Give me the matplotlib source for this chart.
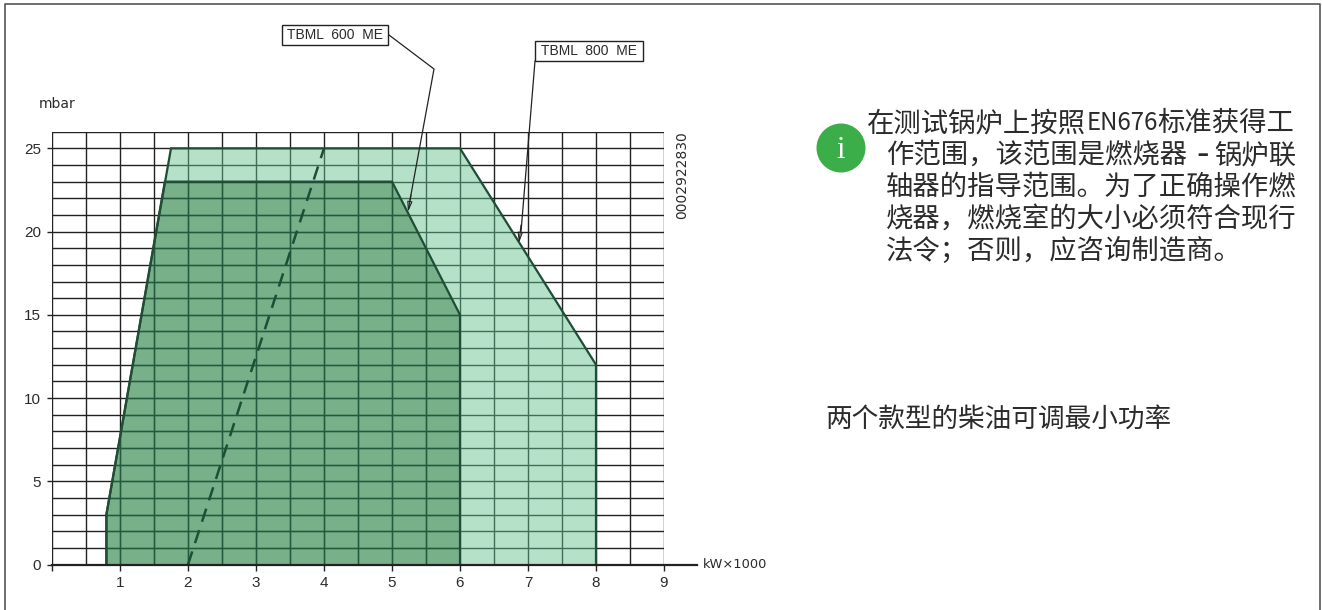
import matplotlib
matplotlib.use("Agg")
import matplotlib.pyplot as plt
from matplotlib.patches import Circle, Polygon, Rectangle

plt.rcParams['font.family'] = ['Noto Sans CJK SC', 'DejaVu Sans']

W, H = 1322, 610

# operating ranges, kW x 1000 / mbar
x_800 = [0.8, 0.8, 1.75, 6, 8, 8]
y_800 = [0, 3, 25, 25, 12, 0]
x_600 = [0.8, 0.8, 1.66, 5, 6, 6]
y_600 = [0, 3, 23, 23, 15, 0]
x_dash = [2, 4]
y_dash = [0, 25]

x_ticks = [1, 2, 3, 4, 5, 6, 7, 8, 9]
y_ticks = [0, 5, 10, 15, 20, 25]

note_2 = "两个款型的柴油可调最小功率"
label_600 = "TBML  600  ME"
label_800 = "TBML  800  ME"
drawing_no = "0002922830"

GREEN_EDGE = "#1f4d36"
TXT = "#2b2b2b"

fig = plt.figure(figsize=(W / 100, H / 100), dpi=100)

# chart axes, placed to the pixel box of the plot
left, right, top, bottom = 52, 664, 131.7, 564.5
ax = fig.add_axes([left / W, 1 - bottom / H, (right - left) / W, (bottom - top) / H])
ax.set_xlim(0, 9)
ax.set_ylim(0, 26)


def draw_grid(color, z, lw=1.0, clip=None):
    lines = []
    for v in range(0, 19):
        lines += ax.plot([v / 2, v / 2], [0, 26], color=color, lw=lw, zorder=z)
    for v in range(0, 27):
        lines += ax.plot([0, 9], [v, v], color=color, lw=lw, zorder=z)
    if clip is not None:
        for ln in lines:
            ln.set_clip_path(clip)


draw_grid("#222222", 1)

poly_800 = Polygon(list(zip(x_800, y_800)), fc="#b6e1c9", ec="none", zorder=2)
poly_600 = Polygon(list(zip(x_600, y_600)), fc="#78b08a", ec="none", zorder=3)
ax.add_patch(poly_800)
ax.add_patch(poly_600)
# grid shows through the fills, darkened to green
draw_grid("#3f6f56", 3.5, clip=poly_800)
draw_grid("#235a3c", 3.6, clip=poly_600)

ax.plot(x_800, y_800, color=GREEN_EDGE, lw=1.6, zorder=4, solid_joinstyle="miter")
ax.plot(x_600, y_600, color=GREEN_EDGE, lw=1.6, zorder=4, solid_joinstyle="miter")
ax.plot(x_dash, y_dash, color=GREEN_EDGE, lw=1.8, zorder=4, dashes=(5.5, 3.5))

for s in ax.spines.values():
    s.set_visible(False)
ax.plot([0, 9.48], [0, 0], color="#222222", lw=1.6, zorder=5, clip_on=False)
ax.set_xticks(x_ticks + [0], [str(v) for v in x_ticks] + [""])
ax.set_yticks(y_ticks)
ax.tick_params(axis="x", length=4.5, width=1.0, color="#222222", labelcolor=TXT, labelsize=11, pad=4)
ax.tick_params(axis="y", length=3.6, width=1.0, color="#222222", labelcolor=TXT, labelsize=11, pad=4.3)
for t in ax.get_xticklabels() + ax.get_yticklabels():
    t.set_family("Liberation Sans")

# overlay in pixel coordinates for frame, labels and notes
pg = fig.add_axes([0, 0, 1, 1], facecolor="none")
pg.set_xlim(0, W)
pg.set_ylim(H, 0)
pg.axis("off")

pg.plot([5, 5, 1320, 1320], [H, 4, 4, H], color="#555555", lw=1.2)

pg.text(39, 104, "mbar", family="DejaVu Sans", fontsize=10, color=TXT, va="center")
pg.text(703, 564, "kW×1000", family="DejaVu Sans", fontsize=9.4, color=TXT, va="center")
pg.text(682, 175, drawing_no, family="DejaVu Sans", fontsize=10, color=TXT,
        rotation=90, va="center", ha="center")

for (bx, by, bw, bh, lab) in [(282, 25, 106, 20, label_600), (535, 41, 108, 20, label_800)]:
    pg.add_patch(Rectangle((bx, by), bw, bh, fc="white", ec="#222222", lw=1.0))
    pg.text(bx + bw / 2, by + bh / 2, lab, family="Liberation Sans", fontsize=10, color=TXT,
            ha="center", va="center")

pg.plot([389, 434, 410], [35, 69, 200], color="#222222", lw=0.9)
pg.annotate("", xy=(408, 212), xytext=(411, 195),
            arrowprops=dict(arrowstyle="-|>,head_width=0.15,head_length=0.6", fc="none",
                            ec="#222222", lw=0.8, shrinkA=0, shrinkB=0))
pg.plot([535, 521], [61, 232], color="#222222", lw=0.9)
pg.annotate("", xy=(519, 243), xytext=(521, 225),
            arrowprops=dict(arrowstyle="-|>,head_width=0.15,head_length=0.6", fc="none",
                            ec="#222222", lw=0.8, shrinkA=0, shrinkB=0))

pg.add_patch(Circle((841, 148), 24.5, fc="#3cae49", ec="none"))
pg.text(841, 150, "i", family="Liberation Serif", fontsize=22, color="white", ha="center", va="center")

# note text, split where the reference spacing differs from the font's own
note_parts = [
    [(867, "在测试锅炉上按照", 19.7), (1087, "EN676", 17.3), (1157, "标准获得工", 19.7)],
    [(886, "作范围，该范围是燃烧器", 19.7), (1196, "-", 26), (1214, "锅炉联", 19.7)],
    [(886, "轴器的指导范围。为了正确操作燃", 19.7)],
    [(886, "烧器，燃烧室的大小必须符合现行", 19.7)],
    [(886, "法令；否则，应咨询制造商。", 19.7)],
]
for i, parts in enumerate(note_parts):
    for px, s, fs in parts:
        pg.text(px, 123.5 + i * 32, s, fontsize=fs, color=TXT, va="center")
pg.text(825, 419, note_2, fontsize=19.2, color=TXT, va="center")

fig.savefig("out.png", dpi=100)
